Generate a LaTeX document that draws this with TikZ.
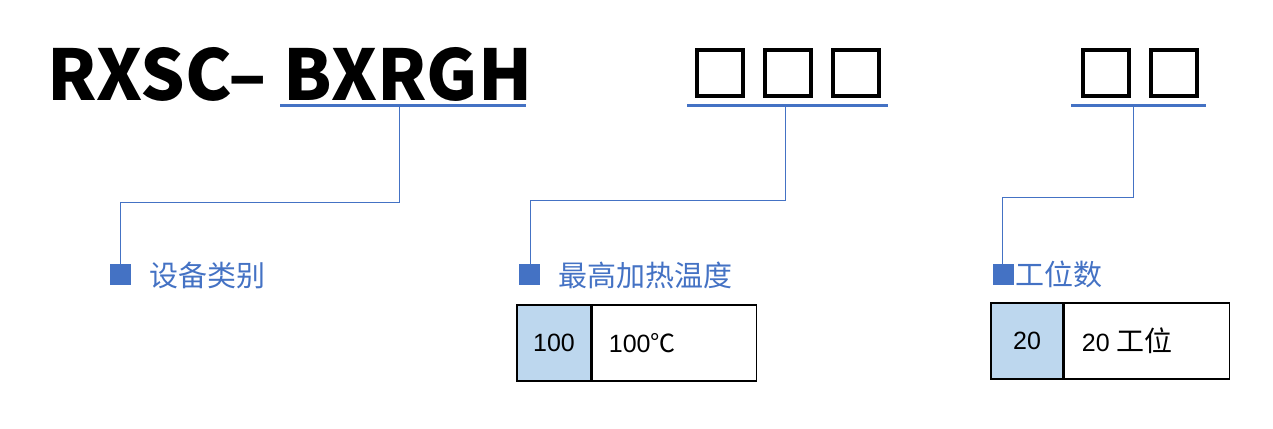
\documentclass[tikz,border=0pt]{standalone}
\usepackage{fontspec}
\setmainfont{Liberation Sans}
\newfontfamily\cjk{Noto Sans CJK SC}
\usepackage{tikz}
\definecolor{codeblue}{HTML}{4472C4}
\definecolor{cellblue}{HTML}{BDD7EE}

\begin{document}
\begin{tikzpicture}[x=1pt, y=-1pt]
\tikzset{heading/.style = {inner sep=0pt, anchor=base west, font=\cjk\bfseries\fontsize{70}{70}\selectfont}}
\tikzset{slot/.style = {draw=black, line width=4pt, minimum size=46pt, inner sep=0pt}}
\tikzset{uline/.style = {draw=codeblue, line width=3pt}}
\tikzset{link/.style = {draw=codeblue, line width=1pt}}
\tikzset{sqmark/.style = {fill=codeblue, minimum size=21pt, inner sep=0pt}}
\tikzset{itemtext/.style = {anchor=west, inner sep=0pt, text=codeblue, font=\cjk\fontsize{29}{29}\selectfont}}
\tikzset{codecell/.style = {draw=black, line width=1.3pt, fill=cellblue, minimum height=76pt, inner sep=0pt, font=\fontsize{25}{25}\selectfont}}
\tikzset{desccell/.style = {draw=black, line width=1.3pt, minimum height=76pt, inner sep=0pt, anchor=west}}
\tikzset{celltxt/.style = {anchor=west, inner sep=0pt, font=\fontsize{25}{25}\selectfont}}
\useasboundingbox (0,0) rectangle (1273,428);

% model code
\node[heading] (rxsc) at (47,100) {RXSC–};
\node[heading] (bxrgh) at (283,100) {BXRGH};
\node[slot] (s1) at (720,73) {};
\node[slot] (s2) at (788,73) {};
\node[slot] (s3) at (856,73) {};
\node[slot] (s4) at (1106,73) {};
\node[slot] (s5) at (1174,73) {};

% underlines
\coordinate (u1a) at (280,105);
\coordinate (u1b) at (526,105);
\coordinate (u2a) at (687,105);
\coordinate (u2b) at (888,105);
\coordinate (u3a) at (1071,105);
\coordinate (u3b) at (1206,105);
\draw[uline] (u1a) -- (u1b);
\draw[uline] (u2a) -- (u2b);
\draw[uline] (u3a) -- (u3b);

% markers and texts
\node[sqmark] (m1) at (120.5,274.5) {};
\node[sqmark] (m2) at (529.5,274.5) {};
\node[sqmark] (m3) at (1003,274.5) {};
\node[itemtext] (t1) at (149,275) {设备类别};
\node[itemtext] (t2) at (558,275) {最高加热温度};
\node[itemtext] (t3) at (1015,274) {工位数};

% connectors
\coordinate (tap1) at (399,106.5);
\coordinate (tap2) at (785,106.5);
\coordinate (tap3) at (1133,106.5);
\coordinate (k1) at (120,202);
\coordinate (k2) at (530,200);
\coordinate (k3) at (1002,197);
\draw[link] (tap1) |- (k1) -- (k1 |- m1.north);
\draw[link] (tap2) |- (k2) -- (k2 |- m2.north);
\draw[link] (tap3) |- (k3) -- (k3 |- m3.north);

% tables
\node[codecell, minimum width=74pt] (c1) at (554,343) {100};
\node[desccell, minimum width=164pt] (d1) at (c1.east) {};
\node[celltxt] (e1) at ([xshift=17pt]d1.west) {100{\cjk ℃}};
\node[codecell, minimum width=72pt] (c2) at (1027,341) {20};
\node[desccell, minimum width=165pt] (d2) at (c2.east) {};
\node[celltxt] (e2) at ([xshift=18pt]d2.west) {20 {\cjk\fontsize{28}{28}\selectfont 工位}};

\end{tikzpicture}
\end{document}
